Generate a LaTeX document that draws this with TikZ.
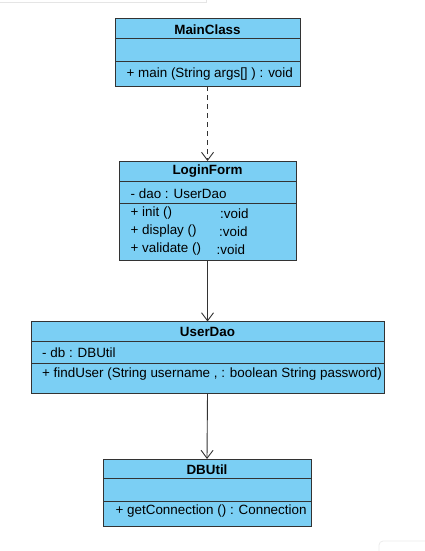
\documentclass[tikz,border=0pt]{standalone}
\usepackage{fontspec}
\setmainfont{Liberation Sans}
\usetikzlibrary{arrows.meta}
\definecolor{clsfill}{HTML}{7BCFF4}
\definecolor{clsline}{HTML}{333333}
\tikzset{
  clsbox/.style={draw=clsline, fill=clsfill, line width=1pt, inner sep=0pt, outer sep=0pt},
  sep/.style={draw=clsline, line width=1pt},
  ttl/.style={font=\bfseries\fontsize{13.4}{15}\selectfont, inner sep=0pt},
  txt/.style={font=\fontsize{13.4}{15}\selectfont, inner sep=0pt, anchor=west},
  conn/.style={draw=black!80, line width=0.9pt, -{Straight Barb[length=8pt,width=12pt,line width=0.9pt]}},
}
\begin{document}
\begin{tikzpicture}[x=1pt,y=-1pt]
\useasboundingbox (0,0) rectangle (425,551);
% faint screenshot artifacts
\draw[black!10, line width=0.8pt] (0,2) -- (206,2) -- (206,0);
\draw[black!8, line width=0.8pt] (379,551) -- (379,545) arc (180:270:4) -- (425,541);
% MainClass
\node[clsbox, minimum width=185pt, minimum height=67pt] (main) at (207.5,52.5) {};
\draw[sep] (115,39) -- (300,39);
\draw[sep] (115,62) -- (300,62);
\node[ttl] (mainT) at (207.5,29.5) {MainClass};
\node[txt] (mainM) at (126.5,74.5) {+ main (String args[] ) : void};
% LoginForm
\node[clsbox, minimum width=177pt, minimum height=99pt] (login) at (207.5,210.5) {};
\draw[sep] (119,181) -- (296,181);
\draw[sep] (119,203.5) -- (296,203.5);
\node[ttl] (loginT) at (207.5,171.5) {LoginForm};
\node[txt] (loginA) at (130.5,193.5) {- dao : UserDao};
\node[txt] (loginM1) at (130.5,213.5) {+ init ()};
\node[txt] (loginM1t) at (220,213.5) {:void};
\node[txt] (loginM2) at (130.5,231.5) {+ display ()};
\node[txt] (loginM2t) at (219,231.5) {:void};
\node[txt] (loginM3) at (130.5,249.5) {+ validate ()};
\node[txt] (loginM3t) at (216.5,249.5) {:void};
% UserDao
\node[clsbox, minimum width=353pt, minimum height=72pt] (dao) at (207.5,357.5) {};
\draw[sep] (31,341.5) -- (384,341.5);
\draw[sep] (31,363.5) -- (384,363.5);
\node[ttl] (daoT) at (207.5,332) {UserDao};
\node[txt] (daoA) at (42,353) {- db : DBUtil};
\node[txt] (daoM) at (42,374.5) {+ findUser (String username , : boolean String password)};
% DBUtil
\node[clsbox, minimum width=208pt, minimum height=67pt] (db) at (207,492.5) {};
\draw[sep] (103,478.5) -- (311,478.5);
\draw[sep] (103,501.5) -- (311,501.5);
\node[ttl] (dbT) at (207,469.5) {DBUtil};
\node[txt] (dbM) at (115.5,511.5) {+ getConnection () : Connection};
% connectors
\draw[conn, dashed, dash pattern=on 5pt off 4pt] (main.south) -- (login.north);
\draw[conn] (login.south) -- (dao.north);
\draw[conn] (dao.south) -- (db.north);
\end{tikzpicture}
\end{document}
